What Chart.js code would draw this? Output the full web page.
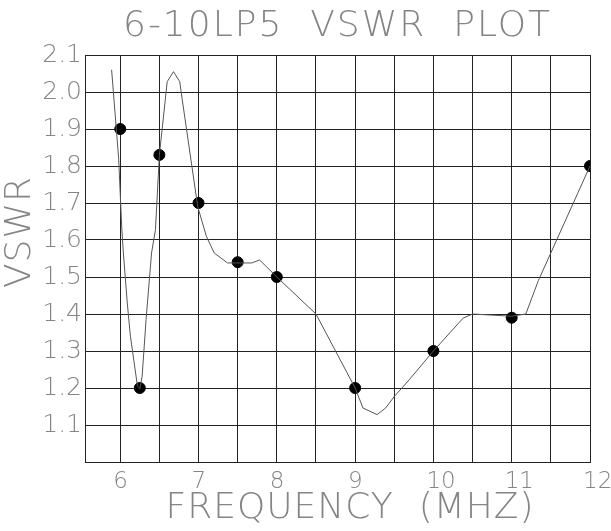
<!DOCTYPE html>
<html>
<head>
<meta charset="utf-8">
<script src="https://cdn.jsdelivr.net/npm/chart.js@4.4.0/dist/chart.umd.min.js"></script>
<style>
  html, body { margin: 0; padding: 0; background: #fff; }
  #wrap { width: 611px; height: 531px; }
</style>
</head>
<body>
<div id="wrap"><canvas id="vswrChart" width="611" height="531"></canvas></div>
<script>
// Измеренные точки (маркеры)
const markerFreq = [6, 6.25, 6.5, 7, 7.5, 8, 9, 10, 11, 12];
const markerVswr = [1.9, 1.2, 1.83, 1.7, 1.54, 1.5, 1.2, 1.3, 1.39, 1.8];

// Сглаженная кривая
const curveFreq = [5.89, 5.98, 6.02, 6.04, 6.09, 6.13, 6.22, 6.25, 6.28, 6.33, 6.4, 6.45, 6.5,
  6.6, 6.68, 6.76, 6.78, 6.99, 7.1, 7.2, 7.37, 7.47, 7.68, 7.78, 8.0, 8.5, 9.0, 9.1, 9.28,
  9.39, 9.5, 9.69, 10.0, 10.38, 10.5, 11.0, 11.18, 11.34, 12.0];
const curveVswr = [2.06, 1.82, 1.63, 1.565, 1.43, 1.34, 1.205, 1.198, 1.232, 1.385, 1.565, 1.628, 1.83,
  2.028, 2.055, 2.028, 1.997, 1.69, 1.61, 1.565, 1.538, 1.538, 1.538, 1.546, 1.5, 1.4, 1.2, 1.146, 1.128,
  1.146, 1.177, 1.222, 1.3, 1.389, 1.4, 1.394, 1.4, 1.49, 1.8];

// Линии сетки по оси X
const xGridValues = [6, 6.5, 7, 7.5, 8, 8.5, 9, 9.5, 10, 10.5, 11, 11.5, 12];

const chartTitle = '6-10LP5  VSWR  PLOT';
const xTitle = 'FREQUENCY  (MHZ)';
const yTitle = 'VSWR';

const textColor = '#858585';
const thinFont = '"DejaVu Sans", sans-serif';

// Плагин для заголовков
const titlesPlugin = {
  id: 'titles',
  afterDraw(chart) {
    const ctx = chart.ctx;
    const area = chart.chartArea;
    ctx.save();
    ctx.fillStyle = textColor;
    ctx.textAlign = 'center';
    ctx.textBaseline = 'middle';
    ctx.font = '200 36px ' + thinFont;
    ctx.letterSpacing = '2px';
    ctx.fillText(chartTitle, (area.left + area.right) / 2, 27);
    ctx.letterSpacing = '1px';
    ctx.fillText(xTitle, 350, 509);
    ctx.translate(21, 232);
    ctx.rotate(-Math.PI / 2);
    ctx.fillText(yTitle, 0, 0);
    ctx.restore();
  }
};

const ctx = document.getElementById('vswrChart').getContext('2d');
const chart = new Chart(ctx, {
  data: {
    datasets: [
      {
        type: 'line',
        data: curveFreq.map((f, i) => ({ x: f, y: curveVswr[i] })),
        borderColor: '#555',
        borderWidth: 1,
        pointRadius: 0,
        tension: 0,
        fill: false
      },
      {
        type: 'scatter',
        data: markerFreq.map((f, i) => ({ x: f, y: markerVswr[i] })),
        backgroundColor: '#000',
        borderColor: '#000',
        pointRadius: 5.5,
        pointHoverRadius: 5.5
      }
    ]
  },
  options: {
    responsive: false,
    animation: false,
    layout: { padding: { top: 55, right: 21, left: 0, bottom: 0 } },
    plugins: {
      legend: { display: false },
      tooltip: { enabled: false },
      title: { display: false }
    },
    scales: {
      x: {
        type: 'linear',
        min: 5.55,
        max: 12,
        afterBuildTicks: scale => { scale.ticks = xGridValues.map(v => ({ value: v })); },
        afterFit: scale => {
          scale.height = 69;
          scale.paddingLeft = 0;
          scale.paddingRight = 0;
        },
        grid: { color: '#222', lineWidth: 1, drawTicks: false },
        border: { display: true, color: '#222', width: 1 },
        ticks: {
          color: textColor,
          font: { family: thinFont, size: 23, weight: 200 },
          padding: 6,
          align: 'start',
          labelOffset: -7,
          maxRotation: 0,
          autoSkip: false,
          callback: v => (Number.isInteger(v) ? String(v) : '')
        }
      },
      y: {
        type: 'linear',
        min: 1.0,
        max: 2.1,
        afterFit: scale => {
          scale.width = 85;
          scale.paddingTop = 0;
          scale.paddingBottom = 0;
        },
        grid: { color: '#222', lineWidth: 1, drawTicks: false },
        border: { display: true, color: '#222', width: 1 },
        ticks: {
          stepSize: 0.1,
          color: textColor,
          font: { family: thinFont, size: 25, weight: 200 },
          padding: 3,
          callback: v => (Math.abs(v - 1.0) < 1e-6 ? '' : v.toFixed(1))
        }
      }
    }
  },
  plugins: [titlesPlugin]
});
</script>
</body>
</html>
